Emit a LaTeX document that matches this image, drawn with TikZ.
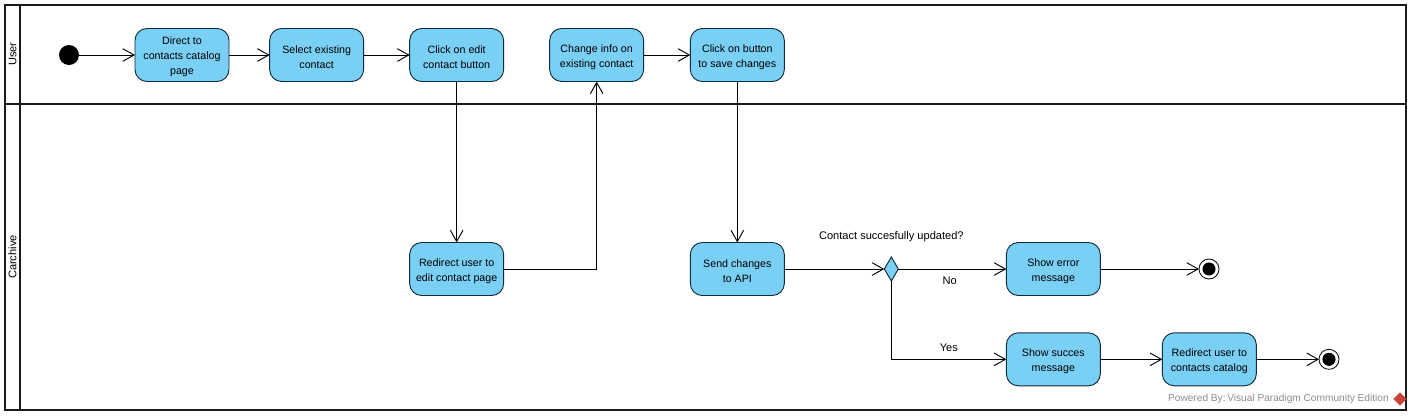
\documentclass[tikz,border=0pt]{standalone}
\usepackage{fontspec}
\setmainfont{Liberation Sans}
\usepackage{xcolor}
\definecolor{actfill}{HTML}{7ACFF5}
\definecolor{actline}{HTML}{0F2A3A}
\definecolor{lane}{HTML}{1A1A1A}
\definecolor{logo}{HTML}{C8453C}
\usetikzlibrary{
  arrows.meta, positioning, shapes.geometric, calc
}
\newcommand{\topgap}{\rule{0pt}{9pt}}

\begin{document}
\begin{tikzpicture}[
  x=0.75pt, y=-0.75pt,
  action/.style={draw=actline, fill=actfill, rounded corners=9pt, minimum width=70.5pt,
                 minimum height=39.75pt, inner sep=1pt, outer sep=0pt, align=center,
                 font=\fontsize{8}{11.2}\selectfont, line width=0.7pt},
  decision/.style={draw=actline, fill=actfill, diamond, minimum width=10.5pt,
                   minimum height=18pt, inner sep=0pt, outer sep=0pt, line width=0.7pt},
  startdot/.style={circle, fill=black, minimum size=15pt, inner sep=0pt, outer sep=0pt},
  enddot/.style={circle, draw=black, fill=white, minimum size=15pt, inner sep=0pt, outer sep=0pt,
                 line width=0.6pt,
                 path picture={\fill[black] (path picture bounding box.center) circle (4.9pt);}},
  arr/.style={-{Straight Barb[length=8.5pt,width=9.5pt]}, line width=0.7pt, black},
  lbl/.style={font=\fontsize{8.3}{10}\selectfont, inner sep=0pt},
  lanename/.style={font=\fontsize{8.3}{10}\selectfont, rotate=90, inner sep=0pt}
]
\useasboundingbox (0,0) rectangle (1411,415);

% swimlanes
\coordinate (nw) at (5,5);
\coordinate (se) at (1406,410);
\draw[lane, line width=1.5pt] (nw) rectangle (se);
\draw[lane, line width=2.2pt] (20,5) -- (20,410);
\draw[lane, line width=2pt] (5,104) -- (1406,104);
\node[lanename] (user) at (12.5,54) {User};
\node[lanename] (carchive) at (12.5,257) {Carchive};

% user lane
\node[startdot] (start) at (69,55) {};
\node[action] (catalog) at (182,55) {\topgap Direct to\\contacts catalog\\page};
\node[action, right=30.5pt of catalog] (select) {\topgap Select existing\\contact};
\node[action, right=34.5pt of select] (edit) {\topgap Click on edit\\contact button};
\node[action, right=34.5pt of edit] (change) {\topgap Change info on\\existing contact};
\node[action, right=35pt of change] (save) {\topgap Click on button\\to save changes};

% carchive lane
\node[action, below=120.75pt of edit] (redirect) {\topgap Redirect user to\\edit contact page};
\node[action, below=120.75pt of save] (send) {\topgap Send changes\\to API};
\node[decision, right=75pt of send] (updated) {};
\node[lbl, above=11.5pt of updated] (question) {Contact succesfully updated?};
\node[action, right=81pt of updated] (error) {\topgap Show error\\message};
\node[enddot, right=74pt of error] (enderror) {};
\node[action, below=28pt of error] (succes) {\topgap Show succes\\message};
\node[action, right=46.5pt of succes] (back) {\topgap Redirect user to\\contacts catalog};
\node[enddot, right=47pt of back] (endback) {};

\draw[arr] (start) -- (catalog);
\draw[arr] (catalog) -- (select);
\draw[arr] (select) -- (edit);
\draw[arr] (edit) -- (redirect);
\draw[arr] (redirect) -| (change);
\draw[arr] (change) -- (save);
\draw[arr] (save) -- (send);
\draw[arr] (send) -- (updated);
\draw[arr] (updated) -- node[lbl, below=5.5pt, xshift=-2pt]{No} (error);
\draw[arr] (updated) |- node[lbl, above=5.5pt, pos=0.75]{Yes} (succes);
\draw[arr] (error) -- (enderror);
\draw[arr] (succes) -- (back);
\draw[arr] (back) -- (endback);

% watermark
\node[font=\fontsize{7.6}{9}\selectfont, text=black!45, inner sep=0pt, anchor=east] (powered) at (1389,399)
  {Powered By:\,Visual Paradigm Community Edition};
\node[diamond, fill=logo, minimum size=10pt, inner sep=0pt] (vplogo) at (1400,399) {};
\end{tikzpicture}
\end{document}
